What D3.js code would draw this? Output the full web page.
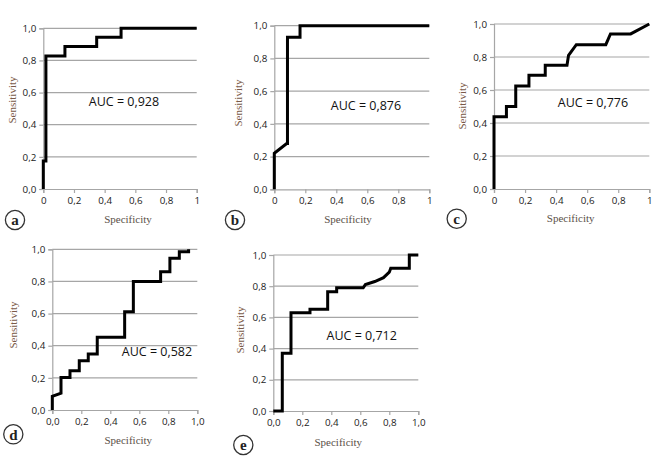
<!DOCTYPE html>
<html><head><meta charset="utf-8">
<script src="https://cdn.jsdelivr.net/npm/d3@7/dist/d3.min.js"></script>
<style>
body{margin:0;background:#fff;}
svg{display:block;}
</style></head>
<body>
<svg id="c" width="664" height="457"></svg>
<script>
// ---------- data ----------
const panelLetters = ["a","b","c","d","e"];
const aucLabels = ["AUC = 0,928","AUC = 0,876","AUC = 0,776","AUC = 0,582","AUC = 0,712"];

const aSpec = [0, 0, 0.017, 0.017, 0.141, 0.141, 0.348, 0.348, 0.507, 0.507, 1];
const aSens = [0, 0.175, 0.175, 0.828, 0.828, 0.886, 0.886, 0.944, 0.944, 1, 1];

const bSpec = [0, 0, 0.08, 0.085, 0.085, 0.166, 0.166, 1];
const bSens = [0, 0.22, 0.28, 0.28, 0.929, 0.929, 1, 1];

const cSpec = [0, 0, 0.08, 0.08, 0.14, 0.14, 0.225, 0.225, 0.33, 0.33, 0.47, 0.48, 0.53, 0.72, 0.75, 0.88, 1];
const cSens = [0, 0.438, 0.438, 0.5, 0.5, 0.625, 0.625, 0.69, 0.69, 0.75, 0.75, 0.81, 0.875, 0.875, 0.94, 0.94, 1];

const dSpec = [0, 0, 0.06, 0.06, 0.122, 0.122, 0.186, 0.186, 0.248, 0.248, 0.31, 0.31, 0.499, 0.499, 0.559, 0.559, 0.747, 0.747, 0.811, 0.811, 0.876, 0.876, 0.94, 0.94];
const dSens = [0, 0.085, 0.104, 0.203, 0.203, 0.245, 0.245, 0.307, 0.307, 0.349, 0.349, 0.452, 0.452, 0.612, 0.612, 0.799, 0.799, 0.861, 0.861, 0.944, 0.944, 0.985, 0.985, 1];

const eSpec = [0, 0.062, 0.062, 0.122, 0.122, 0.253, 0.253, 0.375, 0.375, 0.437, 0.437, 0.62, 0.635, 0.7, 0.76, 0.8, 0.81, 0.938, 0.938, 1];
const eSens = [0, 0, 0.37, 0.37, 0.63, 0.63, 0.652, 0.652, 0.765, 0.765, 0.79, 0.79, 0.81, 0.83, 0.855, 0.89, 0.915, 0.915, 1, 1];

const yTicks = [0, 0.2, 0.4, 0.6, 0.8, 1.0];
const xTicks = [0, 0.2, 0.4, 0.6, 0.8, 1.0];
const xTickLabelsShort = ["0","0,2","0,4","0,6","0,8","1"];
const xTickLabelsLong = ["0,0","0,2","0,4","0,6","0,8","1,0"];
const yTickLabels = ["0,0","0,2","0,4","0,6","0,8","1,0"];

const specSeries = [aSpec, bSpec, cSpec, dSpec, eSpec];
const sensSeries = [aSens, bSens, cSens, dSens, eSens];
const xLabelSets = [xTickLabelsShort, xTickLabelsShort, xTickLabelsShort, xTickLabelsLong, xTickLabelsLong];

// ---------- layout ----------
const layout = [
  {x0:43.3, x1:196.7, yT:28.3, yB:189,   auc:[124,101.5], lab:[15,220],    xt:[128,219], yt:[11.5,100]},
  {x0:274.3,x1:429.3, yT:25.7, yB:189.3, auc:[366,105],   lab:[235,220],   xt:[348,219], yt:[238,103]},
  {x0:494,  x1:649.3, yT:24,   yB:189,   auc:[593,102.5], lab:[456.7,218.7], xt:[570.7,218], yt:[461.5,106]},
  {x0:52.3, x1:197.3, yT:249.3,yB:410,   auc:[157,351.5], lab:[13.3,434.3],xt:[128.3,440], yt:[13.3,325]},
  {x0:273.3,x1:418.3, yT:255,  yB:411,   auc:[361.7,335], lab:[243.3,445], xt:[338.3,442], yt:[240,330]}
];

const svg = d3.select("#c");
const gridCol = "#a6a6a6";
const textCol = "#222";

layout.forEach((L, i) => {
  const g = svg.append("g");
  const x = d3.scaleLinear().domain([0,1]).range([L.x0, L.x1]);
  const y = d3.scaleLinear().domain([0,1]).range([L.yB, L.yT]);

  // gridlines
  g.selectAll("line.grid").data(yTicks.slice(1)).join("line")
    .attr("x1", L.x0).attr("x2", L.x1)
    .attr("y1", d => y(d)).attr("y2", d => y(d))
    .attr("stroke", gridCol).attr("stroke-width", 1.2);

  // y axis
  const yAxis = d3.axisLeft(y).tickValues(yTicks).tickSize(4).tickPadding(3)
    .tickFormat((d, k) => yTickLabels[k]);
  const ya = g.append("g").attr("transform", `translate(${L.x0},0)`).call(yAxis);
  ya.select(".domain").attr("stroke", gridCol).attr("stroke-width", 1.2);
  ya.selectAll(".tick line").attr("stroke", gridCol).attr("stroke-width", 1.2);
  ya.selectAll(".tick text").attr("fill", textCol)
    .style("font-family", "'Open Sans', sans-serif").style("font-size", "9.8px");

  // x axis
  const labels = xLabelSets[i];
  const xAxis = d3.axisBottom(x).tickValues(xTicks).tickSize(4).tickPadding(4)
    .tickFormat((d, k) => labels[k]);
  const xa = g.append("g").attr("transform", `translate(0,${L.yB})`).call(xAxis);
  xa.select(".domain").attr("stroke", gridCol).attr("stroke-width", 1.2);
  xa.selectAll(".tick line").attr("stroke", gridCol).attr("stroke-width", 1.2);
  xa.selectAll(".tick text").attr("fill", textCol)
    .style("font-family", "'Open Sans', sans-serif").style("font-size", "9.8px");

  // curve
  const pts = specSeries[i].map((v, k) => [v, sensSeries[i][k]]);
  const line = d3.line().x(d => x(d[0])).y(d => y(d[1]));
  g.append("path").attr("d", line(pts))
    .attr("fill", "none").attr("stroke", "#000").attr("stroke-width", 3)
    .attr("stroke-linejoin", "miter");

  // AUC text
  g.append("text").attr("x", L.auc[0]).attr("y", L.auc[1])
    .attr("text-anchor", "middle").attr("dominant-baseline", "central")
    .attr("fill", "#111")
    .style("font-family", "'Open Sans', sans-serif").style("font-size", "12.5px")
    .text(aucLabels[i]);

  // axis titles
  g.append("text").attr("x", L.xt[0]).attr("y", L.xt[1])
    .attr("text-anchor", "middle").attr("dominant-baseline", "central")
    .attr("fill", "#5a5048")
    .style("font-family", "'Liberation Serif', serif").style("font-size", "11px")
    .text("Specificity");
  g.append("text")
    .attr("transform", `translate(${L.yt[0]},${L.yt[1]}) rotate(-90)`)
    .attr("text-anchor", "middle").attr("dominant-baseline", "central")
    .attr("fill", "#7a5a48")
    .style("font-family", "'Liberation Serif', serif").style("font-size", "11px")
    .text("Sensitivity");

  // panel letter
  g.append("circle").attr("cx", L.lab[0]).attr("cy", L.lab[1]).attr("r", 9.6)
    .attr("fill", "#fff").attr("stroke", "#333").attr("stroke-width", 1.3);
  g.append("text").attr("x", L.lab[0]).attr("y", L.lab[1] + 0.3)
    .attr("text-anchor", "middle").attr("dominant-baseline", "central")
    .attr("fill", "#222").attr("font-weight", "bold")
    .style("font-family", "'Liberation Serif', serif").style("font-size", "15px")
    .text(panelLetters[i]);
});
</script>
</body></html>
